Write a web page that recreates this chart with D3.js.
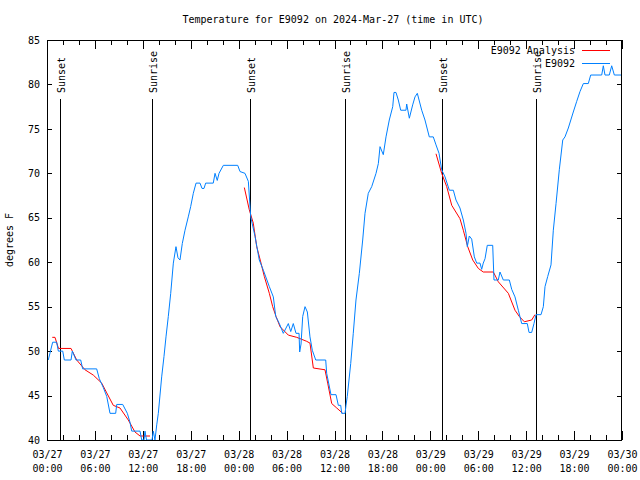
<!DOCTYPE html>
<html><head><meta charset="utf-8">
<script src="https://cdn.jsdelivr.net/npm/d3@7"></script>
<style>body{margin:0;background:#fff}svg{display:block}text{font-family:"DejaVu Sans Mono",monospace;font-size:10px;fill:#000}</style>
</head><body><svg id="c" width="640" height="480"></svg>
<script>
// Hours since 2024-03-27 00:00 UTC
const obsHours = [0.16,0.71,1.21,1.42,1.97,2.17,3.01,3.17,3.63,4.22,4.47,6.22,6.55,7.05,7.48,7.89,8.60,8.73,9.48,10.06,10.39,10.61,11.65,11.86,12.15,12.27,12.46,13.15,13.31,13.52,13.74,13.94,14.36,14.65,14.90,15.19,15.49,15.82,16.15,16.40,16.65,16.94,17.28,17.69,17.99,18.32,18.66,19.16,19.41,19.66,19.87,20.82,21.04,21.32,21.54,22.08,23.88,24.17,24.79,25.21,25.51,26.05,26.58,27.09,27.84,28.34,28.64,29.09,29.59,30.22,30.52,30.84,31.18,31.56,31.64,31.81,32.02,32.31,32.60,32.93,33.22,33.65,34.90,35.02,35.56,36.19,36.48,36.78,36.90,37.32,37.44,37.60,38.03,38.35,38.69,39.11,39.53,39.82,40.23,40.66,41.20,41.49,41.70,42.11,42.45,42.86,43.29,43.45,43.70,43.99,44.29,44.95,45.04,45.37,45.79,46.08,46.37,46.92,47.33,47.87,48.37,48.71,49.09,49.42,49.84,50.38,50.88,51.21,51.71,52.13,52.47,52.63,52.88,53.18,53.51,53.81,54.22,54.43,54.63,54.85,55.13,55.81,55.97,56.51,56.72,57.14,57.89,58.19,58.60,59.02,59.44,60.14,60.36,60.69,60.98,61.23,61.86,62.15,62.36,62.70,63.11,63.40,63.74,64.15,64.58,64.86,65.28,65.90,66.33,66.74,67.16,67.78,68.08,69.46,69.66,69.87,70.41,70.71,71.04,71.96];
const obsTemps = [49.0,51.0,51.0,50.0,50.0,49.0,49.0,50.0,49.0,49.0,48.0,48.0,46.9,45.9,44.9,43.0,43.0,44.0,44.0,43.0,42.0,41.0,41.0,40.0,40.0,41.0,40.0,40.0,41.0,40.0,41.7,43.0,47.1,49.4,51.6,53.9,56.5,59.9,61.75,60.5,60.25,62.1,63.6,65.1,66.25,67.75,68.9,68.9,68.3,68.3,68.9,68.9,70.0,69.2,70.0,70.9,70.9,70.2,70.0,69.1,65.1,62.9,60.25,59.1,57.25,56.1,53.9,53.1,52.0,53.1,52.2,53.1,52.0,52.0,49.9,50.8,53.9,55.0,54.4,51.6,50.1,49.0,49.0,47.5,45.1,45.1,43.9,43.9,43.0,43.0,43.9,44.9,48.6,52.0,55.75,58.75,62.5,65.5,67.75,68.5,70.0,71.1,73.0,72.1,74.1,76.0,77.5,79.1,79.1,78.25,77.1,77.1,77.8,76.2,77.7,78.6,79.0,77.1,76.0,74.1,74.1,73.2,72.25,70.4,69.6,68.1,68.1,67.0,66.1,64.75,63.25,61.75,62.95,62.6,60.6,59.9,59.9,59.2,59.9,60.4,61.9,61.9,58.0,58.0,58.9,58.0,58.0,56.95,56.1,54.6,53.1,53.1,52.1,52.1,53.1,54.1,54.1,55.0,57.25,58.4,59.7,63.6,66.6,70.4,73.75,74.1,75.1,76.9,78.1,79.2,80.1,80.1,81.06,81.06,82.1,81.06,81.06,82.1,81.06,81.06];
// Analysis (null = gap)
const anaHours = [0.66,1.00,1.44,3.01,3.72,4.76,5.80,6.85,7.48,8.30,9.14,10.18,11.02,11.65,12.90,18.0,24.71,25.33,25.83,26.26,26.80,27.21,27.84,28.26,28.68,29.18,30.22,31.27,32.52,32.93,33.35,34.81,35.15,35.65,36.28,37.03,42.0,48.71,49.42,50.05,50.68,51.71,52.13,52.68,53.31,54.01,54.63,55.89,56.51,57.77,58.60,59.14,59.77,60.69,61.10];
const anaTemps = [51.55,51.55,50.3,50.3,49.0,47.9,47.3,46.4,45.3,43.9,43.6,42.25,40.9,40.45,40.45,null,68.4,65.9,64.4,61.75,59.9,58.4,56.5,55.0,53.9,52.75,51.8,51.55,51.1,50.9,48.1,47.9,46.4,44.1,43.6,43.0,null,72.2,70.0,68.5,66.4,64.9,63.6,61.75,60.25,59.3,58.9,58.9,57.8,56.5,54.6,53.9,53.3,53.5,54.1];
const sunHours = [1.63,13.15,25.42,37.32,49.46,61.23];
const sunLabels = ["Sunset","Sunrise","Sunset","Sunrise","Sunset","Sunrise"];
const yTicks = [40,45,50,55,60,65,70,75,80,85];
const seriesNames = ["E9092 Analysis","E9092"];
const seriesColors = ["#ff0000","#0080ff"];
const titleText = "Temperature for E9092 on 2024-Mar-27 (time in UTC)";

const t0 = Date.UTC(2024,2,27,0,0);
const toDate = h => new Date(t0 + h*3600000);
const svg = d3.select("#c");
const L=47,R=622,T=40,B=440;
const x = d3.scaleUtc().domain([toDate(0),toDate(72)]).range([L,R]);
const y = d3.scaleLinear().domain([40,85]).range([B,T]);

svg.append("text").attr("x",333).attr("y",23).attr("text-anchor","middle").text(titleText);
svg.append("text").attr("transform","translate(13,240) rotate(-90)").attr("text-anchor","middle").text("degrees F");

// axes
const xMajor = d3.range(0,73,6).map(toDate);
const xMinor = d3.range(0,73,2).map(toDate);
const fmt = d3.utcFormat("%m/%d");
const fmt2 = d3.utcFormat("%H:%M");
const axB = d3.axisBottom(x).tickValues(xMajor).tickSize(0).tickFormat("");
const g = svg.append("g").attr("transform",`translate(0,${B})`).call(axB);
g.select(".domain").remove();
g.selectAll(".tick").each(function(d){
  const s=d3.select(this);
  s.append("text").attr("y",18).attr("text-anchor","middle").text(fmt(d));
  s.append("text").attr("y",32).attr("text-anchor","middle").text(fmt2(d));
});
const tk = svg.append("g").attr("stroke","#000").attr("stroke-width",1);
xMinor.forEach(d=>{
  const h=(d-t0)/3600000; const len = h%6===0?9:5; const px=Math.round(x(d))+0.5;
  tk.append("line").attr("x1",px).attr("x2",px).attr("y1",B).attr("y2",B-len);
  tk.append("line").attr("x1",px).attr("x2",px).attr("y1",T).attr("y2",T+len);
});
const axL = d3.axisLeft(y).tickValues(yTicks).tickSize(0).tickPadding(7);
const gl = svg.append("g").attr("transform",`translate(${L},0)`).call(axL);
gl.select(".domain").remove();
gl.selectAll("text").attr("font-family",null).attr("font-size",null);
yTicks.forEach(v=>{
  const py=Math.round(y(v))+0.5;
  tk.append("line").attr("x1",L).attr("x2",L+5).attr("y1",py).attr("y2",py);
  tk.append("line").attr("x1",R-5).attr("x2",R).attr("y1",py).attr("y2",py);
});

// sun lines
sunHours.forEach((h,i)=>{
  const px=Math.round(x(toDate(h)))+0.5;
  svg.append("line").attr("x1",px).attr("x2",px).attr("y1",99).attr("y2",B).attr("stroke","#000").attr("stroke-width",1);
  svg.append("text").attr("transform",`translate(${px+4},93) rotate(-90)`).attr("text-anchor","start").text(sunLabels[i]);
});

const clip = svg.append("clipPath").attr("id","clp").append("rect").attr("x",L).attr("y",T).attr("width",R-L).attr("height",B-T);
const line = d3.line().defined(d=>d[1]!=null).x(d=>x(toDate(d[0]))).y(d=>y(d[1]));
svg.append("path").datum(anaHours.map((h,i)=>[h,anaTemps[i]])).attr("d",line).attr("fill","none").attr("stroke",seriesColors[0]).attr("stroke-width",1).attr("clip-path","url(#clp)");
svg.append("path").datum(obsHours.map((h,i)=>[h,obsTemps[i]])).attr("d",line).attr("fill","none").attr("stroke",seriesColors[1]).attr("stroke-width",1).attr("clip-path","url(#clp)");

// legend
seriesNames.forEach((n,i)=>{
  const ly=50+i*13;
  svg.append("text").attr("x",575).attr("y",ly+4).attr("text-anchor","end").text(n);
  svg.append("line").attr("x1",582).attr("x2",610).attr("y1",ly+0.5).attr("y2",ly+0.5).attr("stroke",seriesColors[i]).attr("stroke-width",1);
});

// frame
svg.append("rect").attr("x",L+0.5).attr("y",T+0.5).attr("width",R-L-1).attr("height",B-T).attr("fill","none").attr("stroke","#000").attr("stroke-width",1);
</script></body></html>
